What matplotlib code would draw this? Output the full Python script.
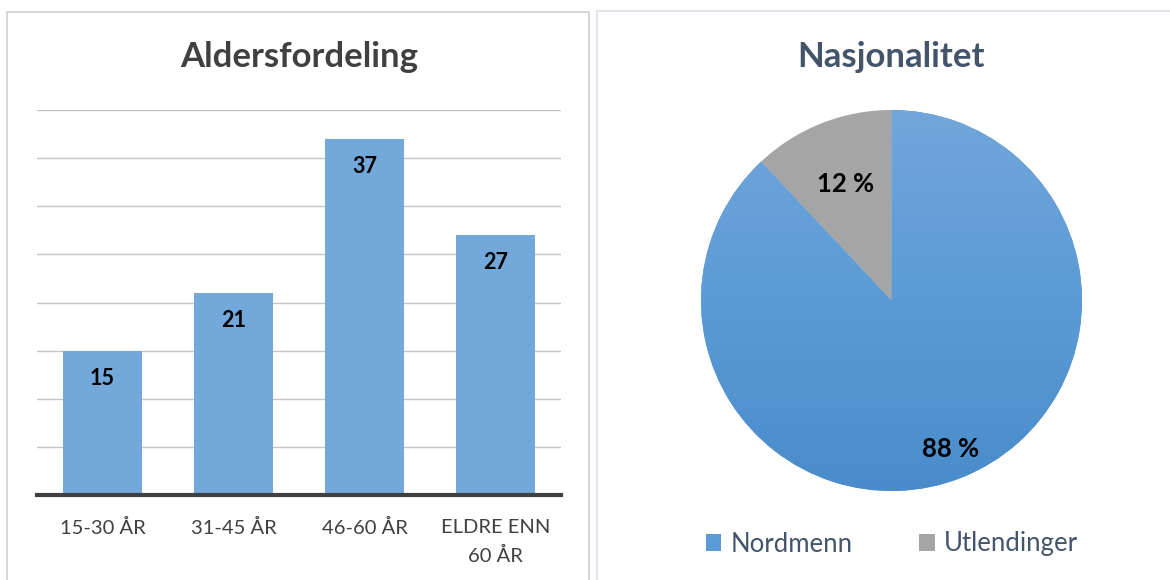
import matplotlib.pyplot as plt
import numpy as np
from matplotlib.patches import Rectangle, Patch
from matplotlib.colors import LinearSegmentedColormap

plt.rcParams['font.family'] = ['Lato', 'DejaVu Sans']

# data
alder_kat = ['15-30 ÅR', '31-45 ÅR', '46-60 ÅR', 'ELDRE ENN\n60 ÅR']
alder_ant = [15, 21, 37, 27]

nasj_kat = ['Nordmenn', 'Utlendinger']
nasj_pct = [88, 12]

W, H = 1170, 580
fig = plt.figure(figsize=(W / 100, H / 100), dpi=100)


def fx(px):
    return px / W


def fy(py):
    return 1 - py / H


# panel frames
fig.patches.append(Rectangle((fx(7), fy(590)), fx(582), fy(12) - fy(590),
                             transform=fig.transFigure, fill=False,
                             edgecolor='#d0d0d0', lw=1.2))
fig.patches.append(Rectangle((fx(597), fy(590)), fx(600), fy(11) - fy(590),
                             transform=fig.transFigure, fill=False,
                             edgecolor='#dde3ea', lw=1.2))

# ---- stolpediagram
ax = fig.add_axes([fx(37), fy(495), fx(561 - 37), fy(110) - fy(495)])
x = np.arange(len(alder_kat))
bars = ax.bar(x, alder_ant, width=0.6, color='#72a8da', zorder=2)
ax.set_xlim(-0.5, len(alder_kat) - 0.5)
ax.set_ylim(0, 40)
ax.set_yticks(np.arange(5, 41, 5))
ax.yaxis.grid(True, color='#c4c4c4', lw=1, zorder=0)
ax.tick_params(axis='y', length=0, labelleft=False)
ax.tick_params(axis='x', length=0, pad=17, labelsize=14.5, labelcolor='#404040')
ax.set_xticks(x)
ax.set_xticklabels(alder_kat, linespacing=1.75)
for s in ['left', 'right', 'top']:
    ax.spines[s].set_visible(False)
ax.spines['bottom'].set_color('#404040')
ax.spines['bottom'].set_linewidth(3)
ax.spines['bottom'].set_zorder(3)
for b, v in zip(bars, alder_ant):
    ax.annotate(str(v), (b.get_x() + b.get_width() / 2, v), xytext=(0, -20),
                textcoords='offset points', ha='center', va='center',
                fontsize=15.5, fontweight='bold', color='black', zorder=4)

fig.text(fx(299), fy(57), 'Aldersfordeling', ha='center', va='center',
         fontsize=25, fontweight='bold', color='#404040')

# ---- kakediagram
r_px = 190.5
ax2 = fig.add_axes([fx(891.5 - r_px), fy(300.5 + r_px), fx(2 * r_px), fy(300.5 - r_px) - fy(300.5 + r_px)])
wedges, _ = ax2.pie(nasj_pct, startangle=90, counterclock=False,
                    colors=['#5b9bd5', '#a5a5a5'], radius=1,
                    wedgeprops=dict(linewidth=0))
ax2.set_xlim(-1, 1)
ax2.set_ylim(-1, 1)
ax2.set_aspect('equal')

# gradient i blå del
cmap = LinearSegmentedColormap.from_list('blaa', ['#4a8bcb', '#5b9bd5', '#72a6da'])
grad = np.linspace(0, 1, 256).reshape(-1, 1)
im = ax2.imshow(grad, extent=(-1, 1, -1, 1), origin='lower', cmap=cmap,
                aspect='auto', zorder=2)
im.set_clip_path(wedges[0])

dist = [0.84, 0.66]
for w, p, d in zip(wedges, nasj_pct, dist):
    ang = np.deg2rad((w.theta1 + w.theta2) / 2)
    ax2.text(d * np.cos(ang), d * np.sin(ang), f'{p} %', ha='center', va='center',
             fontsize=18.5, fontweight='bold', color='black', zorder=5)

fig.text(fx(891), fy(57), 'Nasjonalitet', ha='center', va='center',
         fontsize=25, fontweight='bold', color='#44546a')

handles = [Patch(facecolor='#5b9bd5'), Patch(facecolor='#a5a5a5')]
fig.legend(handles, nasj_kat, loc='center', bbox_to_anchor=(fx(892), fy(544)),
           ncol=2, frameon=False, fontsize=18.5, labelcolor='#44546a',
           handlelength=0.6, handleheight=0.6, handletextpad=0.35,
           columnspacing=2.6)

fig.savefig('out.png', dpi=100)
